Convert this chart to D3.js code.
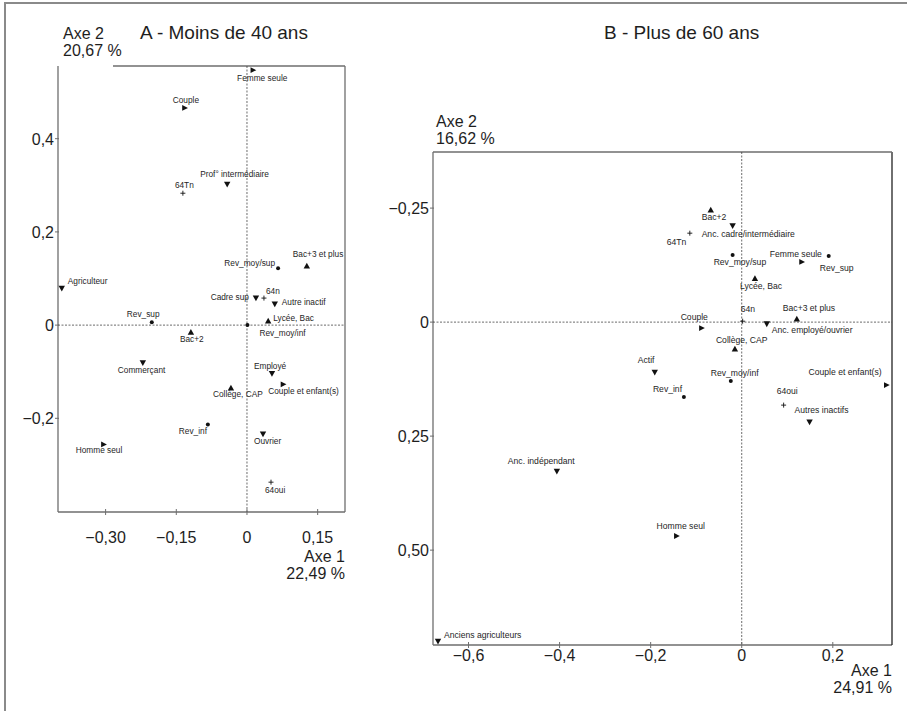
<!DOCTYPE html>
<html><head><meta charset="utf-8">
<script src="https://cdn.jsdelivr.net/npm/d3@7"></script>
<style>
body{margin:0;background:#fff;}
svg text{font-family:"Liberation Sans",Arial,sans-serif;fill:#1e1e1e;}
</style></head>
<body><svg id="c" width="907" height="711"></svg>
<script>
// ---------- Panel A data ----------
const labelsA = ["Femme seule","Couple","Prof° intermédiaire","64Tn","Bac+3 et plus","Rev_moy/sup","Agriculteur","Cadre sup","64n","Autre inactif","Lycée, Bac","Rev_moy/inf","Rev_sup","Bac+2","Commerçant","Employé","Couple et enfant(s)","Collège, CAP","Rev_inf","Homme seul","Ouvrier","64oui"];
const axis1A = [0.013,-0.132,-0.042,-0.136,0.127,0.066,-0.393,0.019,0.036,0.059,0.045,0.001,-0.202,-0.119,-0.221,0.053,0.077,-0.034,-0.083,-0.304,0.034,0.051];
const axis2A = [0.547,0.466,0.302,0.283,0.127,0.122,0.079,0.058,0.058,0.045,0.009,0.000,0.006,-0.015,-0.081,-0.104,-0.127,-0.135,-0.213,-0.256,-0.234,-0.337];
const typesA = ["right","right","down","plus","up","dot","down","down","plus","down","up","dot","dot","up","down","down","right","up","dot","right","down","plus"];
const xTicksA = [-0.30,-0.15,0,0.15];
const xTickLabelsA = ["\u22120,30","\u22120,15","0","0,15"];
const yTicksA = [0.4,0.2,0,-0.2];
const yTickLabelsA = ["0,4","0,2","0","\u22120,2"];

// ---------- Panel B data ----------
const labelsB = ["Bac+2","Anc. cadre/intermédiaire","64Tn","Rev_moy/sup","Femme seule","Rev_sup","Lycée, Bac","64n","Bac+3 et plus","Couple","Anc. employé/ouvrier","Collège, CAP","Actif","Rev_moy/inf","Couple et enfant(s)","Rev_inf","64oui","Autres inactifs","Anc. indépendant","Anciens agriculteurs","Homme seul"];
const axis1B = [-0.068,-0.020,-0.114,-0.020,0.132,0.191,0.029,0.002,0.121,-0.088,0.055,-0.015,-0.191,-0.024,0.318,-0.127,0.092,0.149,-0.406,-0.667,-0.143];
const axis2B = [-0.246,-0.211,-0.195,-0.147,-0.132,-0.145,-0.096,-0.002,-0.007,0.013,0.004,0.059,0.110,0.129,0.138,0.164,0.182,0.219,0.327,0.700,0.469];
const typesB = ["up","down","plus","dot","right","dot","up","plus","up","right","down","up","down","dot","right","dot","plus","down","down","down","right"];
const xTicksB = [-0.6,-0.4,-0.2,0,0.2];
const xTickLabelsB = ["\u22120,6","\u22120,4","\u22120,2","0","0,2"];
const yTicksB = [-0.25,0,0.25,0.5];
const yTickLabelsB = ["\u22120,25","0","0,25","0,50"];

// label offsets (layout only)
const labelOffA = [[-16,11],[-12,-5],[-27,-7],[-8,-5],[-14,-9],[-3,-2,"end"],[6,-4],[-7,2,"end"],[2,-4],[7,1],[5,0],[12,11],[-25,-5],[-11,10],[-25,10],[-18,-5],[-15,10],[-18,9],[-29,10],[-28,9],[-9,10],[-6,11]];
const labelOffB = [[-9,10],[-31,11],[-23,12],[-19,10],[-32,-5],[-9,15],[-15,11],[-2,-9],[-14,-8],[-21,-8],[5,9],[-19,-6],[-17,-9],[-20,-5],[-78,-10],[-31,-5],[-7,-11],[-15,-9],[-49,-7],[6,-3],[-20,-7]];

const svg = d3.select("#c");
const frameCol = "#6e6e6e";

// outer border
svg.append("rect").attr("x",5).attr("y",3).attr("width",930).attr("height",730)
  .attr("fill","none").attr("stroke","#8a8a8a").attr("stroke-width",2);

function symbolPath(t){
  const s = 3.2;
  if(t==="up") return `M0,${-s}L${s},${s*0.8}L${-s},${s*0.8}Z`;
  if(t==="down") return `M0,${s}L${s},${-s*0.8}L${-s},${-s*0.8}Z`;
  if(t==="right") return `M${s},0L${-s*0.8},${s*0.9}L${-s*0.8},${-s*0.9}Z`;
  return null;
}

function panel(cfg){
  const g = svg.append("g");
  const x = d3.scaleLinear().domain(cfg.xDom).range([cfg.left,cfg.right]);
  const y = d3.scaleLinear().domain(cfg.yDom).range([cfg.top,cfg.bottom]);
  // frame
  g.append("line").attr("x1",cfg.left).attr("x2",cfg.left).attr("y1",cfg.top).attr("y2",cfg.bottom).attr("stroke",frameCol).attr("stroke-width",1.3);
  g.append("line").attr("x1",cfg.left).attr("x2",cfg.right).attr("y1",cfg.bottom).attr("y2",cfg.bottom).attr("stroke",frameCol).attr("stroke-width",1.3);
  g.append("line").attr("x1",cfg.right).attr("x2",cfg.right).attr("y1",cfg.top).attr("y2",cfg.bottom).attr("stroke",cfg.rightCol||frameCol).attr("stroke-width",1.3);
  g.append("line").attr("x1",cfg.topStart).attr("x2",cfg.right).attr("y1",cfg.top).attr("y2",cfg.top).attr("stroke",frameCol).attr("stroke-width",1.3);
  // zero lines
  g.append("line").attr("x1",x(0)).attr("x2",x(0)).attr("y1",cfg.top).attr("y2",cfg.bottom)
    .attr("stroke","#444").attr("stroke-width",0.8).attr("stroke-dasharray","2,1.5");
  g.append("line").attr("x1",cfg.left).attr("x2",cfg.right).attr("y1",y(0)).attr("y2",y(0))
    .attr("stroke","#444").attr("stroke-width",0.8).attr("stroke-dasharray","2,1.5");
  // y ticks
  cfg.yTicks.forEach((v,i)=>{
    g.append("line").attr("x1",cfg.left-3).attr("x2",cfg.left+1).attr("y1",y(v)).attr("y2",y(v)).attr("stroke",frameCol).attr("stroke-width",1);
    g.append("text").attr("x",cfg.left-4).attr("y",y(v)+6).attr("text-anchor","end").attr("font-size",16).text(cfg.yTickLabels[i]);
  });
  cfg.xTicks.forEach((v,i)=>{
    g.append("line").attr("x1",x(v)).attr("x2",x(v)).attr("y1",cfg.bottom-3).attr("y2",cfg.bottom+3).attr("stroke",frameCol).attr("stroke-width",1);
    g.append("text").attr("x",x(v)).attr("y",cfg.xLabBase).attr("text-anchor","middle").attr("font-size",16).text(cfg.xTickLabels[i]);
  });
  // axis titles
  g.append("text").attr("x",cfg.ax2x).attr("y",cfg.ax2y).attr("font-size",16).text("Axe 2");
  g.append("text").attr("x",cfg.ax2x).attr("y",cfg.ax2y+16.5).attr("font-size",16).text(cfg.ax2pct);
  g.append("text").attr("x",cfg.right).attr("y",cfg.ax1y).attr("text-anchor","end").attr("font-size",16).text("Axe 1");
  g.append("text").attr("x",cfg.right).attr("y",cfg.ax1y+17).attr("text-anchor","end").attr("font-size",16).text(cfg.ax1pct);
  g.append("text").attr("x",cfg.titleX).attr("y",39).attr("font-size",19).text(cfg.title);
  // points
  cfg.labels.forEach((lab,i)=>{
    const px = x(cfg.xs[i]), py = y(cfg.ys[i]), t = cfg.types[i];
    if(t==="dot"){
      g.append("circle").attr("cx",px).attr("cy",py).attr("r",2).attr("fill","#111");
    } else if(t==="plus"){
      g.append("path").attr("d",`M${px-2.5},${py}H${px+2.5}M${px},${py-2.5}V${py+2.5}`).attr("stroke","#111").attr("stroke-width",0.9);
    } else {
      g.append("path").attr("d",symbolPath(t)).attr("transform",`translate(${px},${py})`).attr("fill","#111");
    }
    const off = cfg.offs[i];
    g.append("text").attr("x",px+off[0]).attr("y",py+off[1]).attr("text-anchor",off[2]||"start")
      .attr("font-size",cfg.labSize).attr("fill","#222").text(lab);
  });
}

panel({
  xDom:[-0.401,0.208], yDom:[0.556,-0.401], left:58, right:345, top:66, bottom:512, topStart:113,
  xTicks:xTicksA, xTickLabels:xTickLabelsA, yTicks:yTicksA, yTickLabels:yTickLabelsA, xLabBase:543,
  ax2x:63, ax2y:39, ax2pct:"20,67 %", ax1y:562, ax1pct:"22,49 %", title:"A - Moins de 40 ans", titleX:140,
  labels:labelsA, xs:axis1A, ys:axis2A, types:typesA, offs:labelOffA, labSize:8.3
});
panel({
  xDom:[-0.678,0.330], yDom:[-0.373,0.708], left:433, right:892, top:152, bottom:645, topStart:433,
  xTicks:xTicksB, xTickLabels:xTickLabelsB, yTicks:yTicksB, yTickLabels:yTickLabelsB, xLabBase:661,
  ax2x:436, ax2y:127, ax2pct:"16,62 %", ax1y:676, ax1pct:"24,91 %", title:"B - Plus de 60 ans", titleX:604,
  labels:labelsB, xs:axis1B, ys:axis2B, types:typesB, offs:labelOffB, labSize:8.6, rightCol:"#222"
});
</script></body></html>
